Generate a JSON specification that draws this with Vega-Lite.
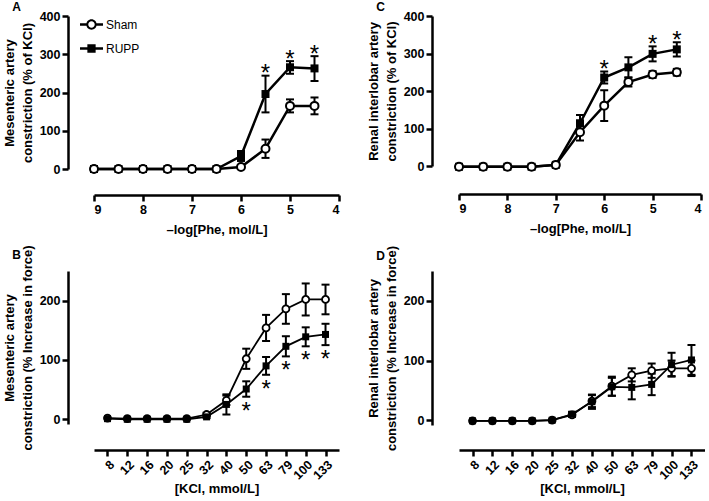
{
  "$schema": "https://vega.github.io/schema/vega-lite/v6.json",
  "background": "white",
  "padding": {"left": 3, "top": 0, "right": 0, "bottom": 0},
  "datasets": {
    "A": [
      {"x": 9, "series": "Sham", "y": 0}, {"x": 8.5, "series": "Sham", "y": 0}, {"x": 8, "series": "Sham", "y": 0},
      {"x": 7.5, "series": "Sham", "y": 0}, {"x": 7, "series": "Sham", "y": 0}, {"x": 6.5, "series": "Sham", "y": 0},
      {"x": 6, "series": "Sham", "y": 5}, {"x": 5.5, "series": "Sham", "y": 53, "lo": 29, "hi": 77},
      {"x": 5, "series": "Sham", "y": 165, "lo": 148, "hi": 182}, {"x": 4.5, "series": "Sham", "y": 165, "lo": 143, "hi": 187},
      {"x": 9, "series": "RUPP", "y": 0}, {"x": 8.5, "series": "RUPP", "y": 0}, {"x": 8, "series": "RUPP", "y": 0},
      {"x": 7.5, "series": "RUPP", "y": 0}, {"x": 7, "series": "RUPP", "y": 0}, {"x": 6.5, "series": "RUPP", "y": 0},
      {"x": 6, "series": "RUPP", "y": 34, "lo": 21, "hi": 47}, {"x": 5.5, "series": "RUPP", "y": 196, "lo": 148, "hi": 244, "sig": "*"},
      {"x": 5, "series": "RUPP", "y": 266, "lo": 249, "hi": 282, "sig": "*"}, {"x": 4.5, "series": "RUPP", "y": 263, "lo": 230, "hi": 295, "sig": "*"}
    ],
    "C": [
      {"x": 9, "series": "Sham", "y": -2}, {"x": 8.5, "series": "Sham", "y": -2}, {"x": 8, "series": "Sham", "y": -2},
      {"x": 7.5, "series": "Sham", "y": -2}, {"x": 7, "series": "Sham", "y": 3},
      {"x": 6.5, "series": "Sham", "y": 90, "lo": 68, "hi": 112}, {"x": 6, "series": "Sham", "y": 161, "lo": 120, "hi": 202},
      {"x": 5.5, "series": "Sham", "y": 224, "lo": 212, "hi": 236}, {"x": 5, "series": "Sham", "y": 244, "lo": 235, "hi": 253},
      {"x": 4.5, "series": "Sham", "y": 250, "lo": 241, "hi": 259},
      {"x": 9, "series": "RUPP", "y": -2}, {"x": 8.5, "series": "RUPP", "y": -2}, {"x": 8, "series": "RUPP", "y": -2},
      {"x": 7.5, "series": "RUPP", "y": -2}, {"x": 7, "series": "RUPP", "y": 3},
      {"x": 6.5, "series": "RUPP", "y": 114, "lo": 92, "hi": 136}, {"x": 6, "series": "RUPP", "y": 236, "lo": 220, "hi": 252, "sig": "*"},
      {"x": 5.5, "series": "RUPP", "y": 263, "lo": 236, "hi": 290}, {"x": 5, "series": "RUPP", "y": 299, "lo": 279, "hi": 319, "sig": "*"},
      {"x": 4.5, "series": "RUPP", "y": 311, "lo": 292, "hi": 330, "sig": "*"}
    ],
    "B": [
      {"x": 8, "series": "Sham", "y": 2}, {"x": 12, "series": "Sham", "y": 1}, {"x": 16, "series": "Sham", "y": 1},
      {"x": 20, "series": "Sham", "y": 1}, {"x": 25, "series": "Sham", "y": 1}, {"x": 32, "series": "Sham", "y": 8, "lo": 5, "hi": 11},
      {"x": 40, "series": "Sham", "y": 32, "lo": 24, "hi": 40}, {"x": 50, "series": "Sham", "y": 102, "lo": 85, "hi": 119},
      {"x": 63, "series": "Sham", "y": 154, "lo": 132, "hi": 176}, {"x": 79, "series": "Sham", "y": 186, "lo": 161, "hi": 211},
      {"x": 100, "series": "Sham", "y": 202, "lo": 175, "hi": 229}, {"x": 133, "series": "Sham", "y": 202, "lo": 177, "hi": 227},
      {"x": 8, "series": "RUPP", "y": 1}, {"x": 12, "series": "RUPP", "y": 0}, {"x": 16, "series": "RUPP", "y": 0},
      {"x": 20, "series": "RUPP", "y": 0}, {"x": 25, "series": "RUPP", "y": 0}, {"x": 32, "series": "RUPP", "y": 4, "lo": 2, "hi": 6},
      {"x": 40, "series": "RUPP", "y": 25, "lo": 8, "hi": 42}, {"x": 50, "series": "RUPP", "y": 51, "lo": 38, "hi": 64, "sig": "*"},
      {"x": 63, "series": "RUPP", "y": 90, "lo": 75, "hi": 105, "sig": "*"}, {"x": 79, "series": "RUPP", "y": 123, "lo": 106, "hi": 140, "sig": "*"},
      {"x": 100, "series": "RUPP", "y": 139, "lo": 123, "hi": 155, "sig": "*"}, {"x": 133, "series": "RUPP", "y": 143, "lo": 125, "hi": 161, "sig": "*"}
    ],
    "D": [
      {"x": 8, "series": "Sham", "y": -1}, {"x": 12, "series": "Sham", "y": -1}, {"x": 16, "series": "Sham", "y": -1},
      {"x": 20, "series": "Sham", "y": -1}, {"x": 25, "series": "Sham", "y": 0}, {"x": 32, "series": "Sham", "y": 9, "lo": 6, "hi": 12},
      {"x": 40, "series": "Sham", "y": 32, "lo": 22, "hi": 42}, {"x": 50, "series": "Sham", "y": 57, "lo": 41, "hi": 73},
      {"x": 63, "series": "Sham", "y": 76, "lo": 65, "hi": 87}, {"x": 79, "series": "Sham", "y": 83, "lo": 71, "hi": 95},
      {"x": 100, "series": "Sham", "y": 87, "lo": 74, "hi": 100}, {"x": 133, "series": "Sham", "y": 87, "lo": 74, "hi": 100},
      {"x": 8, "series": "RUPP", "y": -1}, {"x": 12, "series": "RUPP", "y": -1}, {"x": 16, "series": "RUPP", "y": -1},
      {"x": 20, "series": "RUPP", "y": -1}, {"x": 25, "series": "RUPP", "y": 0}, {"x": 32, "series": "RUPP", "y": 10, "lo": 6, "hi": 14},
      {"x": 40, "series": "RUPP", "y": 31, "lo": 19, "hi": 43}, {"x": 50, "series": "RUPP", "y": 56, "lo": 41, "hi": 71},
      {"x": 63, "series": "RUPP", "y": 55, "lo": 35, "hi": 75}, {"x": 79, "series": "RUPP", "y": 60, "lo": 42, "hi": 78},
      {"x": 100, "series": "RUPP", "y": 93, "lo": 73, "hi": 113}, {"x": 133, "series": "RUPP", "y": 101, "lo": 76, "hi": 126}
    ]
  },
  "columns": 2,
  "align": "each",
  "spacing": {"row": 7, "column": 26},
  "concat": [
    {
      "title": {"text": "A", "dx": 9, "dy": 7.5},
      "width": 245, "height": 153,
      "data": {"name": "A"},
      "encoding": {
        "x": {"field": "x", "type": "quantitative", "scale": {"domain": [9, 4], "nice": false, "zero": false},
              "axis": {"values": [9, 8, 7, 6, 5, 4], "format": "d", "offset": 26, "title": "–log[Phe, mol/L]", "titlePadding": 8}},
        "y": {"field": "y", "type": "quantitative", "scale": {"domain": [0, 400], "nice": false},
              "title": ["Mesenteric artery", "constriction (% of KCl)"],
              "axis": {"values": [0, 100, 200, 300, 400], "offset": 26}}
      },
      "layer": [
        {"mark": {"type": "rule", "strokeWidth": 2, "color": "black"},
         "encoding": {"y": {"field": "lo", "type": "quantitative", "title": ["Mesenteric artery", "constriction (% of KCl)"]}, "y2": {"field": "hi"}}},
        {"mark": {"type": "tick", "orient": "horizontal", "size": 8, "thickness": 2, "color": "black", "opacity": 1},
         "encoding": {"y": {"field": "lo", "type": "quantitative", "title": ["Mesenteric artery", "constriction (% of KCl)"]}}},
        {"mark": {"type": "tick", "orient": "horizontal", "size": 8, "thickness": 2, "color": "black", "opacity": 1},
         "encoding": {"y": {"field": "hi", "type": "quantitative", "title": ["Mesenteric artery", "constriction (% of KCl)"]}}},
        {"mark": {"type": "line", "strokeWidth": 2.5, "color": "black"}, "encoding": {"detail": {"field": "series"}}},
        {"transform": [{"filter": "datum.series === 'RUPP'"}],
         "mark": {"type": "point", "shape": "square", "filled": true, "color": "black", "size": 64, "opacity": 1}},
        {"transform": [{"filter": "datum.series === 'Sham'"}],
         "mark": {"type": "point", "shape": "circle", "fill": "white", "stroke": "black", "strokeWidth": 2, "size": 64, "opacity": 1}},
        {"transform": [{"filter": "datum.sig"}],
         "mark": {"type": "text", "fontSize": 24, "baseline": "alphabetic", "dy": 5.5, "color": "black", "font": "Liberation Sans"},
         "encoding": {"y": {"field": "hi", "type": "quantitative", "title": ["Mesenteric artery", "constriction (% of KCl)"]}, "text": {"field": "sig"}}},
        {"transform": [{"filter": "false"}],
         "mark": {"type": "point", "filled": true, "color": "black", "opacity": 1, "strokeWidth": 0},
         "encoding": {
           "shape": {"field": "series", "type": "nominal",
                     "scale": {"domain": ["Sham", "RUPP"], "range": [
                       "M-1,-0.11L-0.43,-0.11L-0.43,0.11L-1,0.11ZM0.43,-0.11L1,-0.11L1,0.11L0.43,0.11ZM0.45,0A0.45,0.45,0,1,1,-0.45,0A0.45,0.45,0,1,1,0.45,0ZM0.28,0A0.28,0.28,0,1,0,-0.28,0A0.28,0.28,0,1,0,0.28,0Z",
                       "M-1,-0.11L1,-0.11L1,0.11L-1,0.11ZM-0.36,-0.36L0.36,-0.36L0.36,0.36L-0.36,0.36Z"]},
                     "legend": {"orient": "none", "legendX": -14, "legendY": -3, "title": null, "symbolSize": 529, "symbolStrokeWidth": 0, "symbolFillColor": "black", "symbolOpacity": 1, "labelFontSize": 12, "labelFont": "Liberation Sans", "labelColor": "black", "labelOffset": 3, "rowPadding": 6, "padding": 0}}
         }}
      ]
    },
    {
      "title": {"text": "C", "dx": 9, "dy": 7.5},
      "width": 242, "height": 150,
      "data": {"name": "C"},
      "encoding": {
        "x": {"field": "x", "type": "quantitative", "scale": {"domain": [9, 4], "nice": false, "zero": false},
              "axis": {"values": [9, 8, 7, 6, 5, 4], "format": "d", "offset": 28, "title": "–log[Phe, mol/L]", "titlePadding": 8}},
        "y": {"field": "y", "type": "quantitative", "scale": {"domain": [0, 400], "nice": false},
              "title": ["Renal interlobar artery", "constriction (% of KCl)"],
              "axis": {"values": [0, 100, 200, 300, 400], "offset": 27}}
      },
      "layer": [
        {"mark": {"type": "rule", "strokeWidth": 2, "color": "black"},
         "encoding": {"y": {"field": "lo", "type": "quantitative", "title": ["Renal interlobar artery", "constriction (% of KCl)"]}, "y2": {"field": "hi"}}},
        {"mark": {"type": "tick", "orient": "horizontal", "size": 8, "thickness": 2, "color": "black", "opacity": 1},
         "encoding": {"y": {"field": "lo", "type": "quantitative", "title": ["Renal interlobar artery", "constriction (% of KCl)"]}}},
        {"mark": {"type": "tick", "orient": "horizontal", "size": 8, "thickness": 2, "color": "black", "opacity": 1},
         "encoding": {"y": {"field": "hi", "type": "quantitative", "title": ["Renal interlobar artery", "constriction (% of KCl)"]}}},
        {"mark": {"type": "line", "strokeWidth": 2.5, "color": "black"}, "encoding": {"detail": {"field": "series"}}},
        {"transform": [{"filter": "datum.series === 'RUPP'"}],
         "mark": {"type": "point", "shape": "square", "filled": true, "color": "black", "size": 64, "opacity": 1}},
        {"transform": [{"filter": "datum.series === 'Sham'"}],
         "mark": {"type": "point", "shape": "circle", "fill": "white", "stroke": "black", "strokeWidth": 2, "size": 64, "opacity": 1}},
        {"transform": [{"filter": "datum.sig"}],
         "mark": {"type": "text", "fontSize": 24, "baseline": "alphabetic", "dy": 5.5, "color": "black", "font": "Liberation Sans"},
         "encoding": {"y": {"field": "hi", "type": "quantitative", "title": ["Renal interlobar artery", "constriction (% of KCl)"]}, "text": {"field": "sig"}}}
      ]
    },
    {
      "title": {"text": "B", "dx": 9, "dy": 21.5},
      "width": 245, "height": 153,
      "data": {"name": "B"},
      "encoding": {
        "x": {"field": "x", "type": "ordinal", "scale": {"type": "point", "padding": 0.68},
              "axis": {"labelAngle": -45, "offset": 26, "title": "[KCl, mmol/L]", "titlePadding": 1}},
        "y": {"field": "y", "type": "quantitative", "scale": {"domain": [-8, 250], "nice": false},
              "title": ["Mesenteric artery", "constriction (% Increase in force)"],
              "axis": {"values": [0, 100, 200], "offset": 26}}
      },
      "layer": [
        {"mark": {"type": "rule", "strokeWidth": 2, "color": "black"},
         "encoding": {"y": {"field": "lo", "type": "quantitative", "title": ["Mesenteric artery", "constriction (% Increase in force)"]}, "y2": {"field": "hi"}}},
        {"mark": {"type": "tick", "orient": "horizontal", "size": 8, "thickness": 2, "color": "black", "opacity": 1},
         "encoding": {"y": {"field": "lo", "type": "quantitative", "title": ["Mesenteric artery", "constriction (% Increase in force)"]}}},
        {"mark": {"type": "tick", "orient": "horizontal", "size": 8, "thickness": 2, "color": "black", "opacity": 1},
         "encoding": {"y": {"field": "hi", "type": "quantitative", "title": ["Mesenteric artery", "constriction (% Increase in force)"]}}},
        {"mark": {"type": "line", "strokeWidth": 1.8, "color": "black"}, "encoding": {"detail": {"field": "series"}}},
        {"transform": [{"filter": "datum.series === 'Sham'"}],
         "mark": {"type": "point", "shape": "circle", "fill": "white", "stroke": "black", "strokeWidth": 1.8, "size": 49, "opacity": 1}},
        {"transform": [{"filter": "datum.series === 'RUPP'"}],
         "mark": {"type": "point", "shape": "square", "filled": true, "color": "black", "size": 49, "opacity": 1}},
        {"transform": [{"filter": "datum.sig"}],
         "mark": {"type": "text", "fontSize": 24, "baseline": "alphabetic", "dy": 22, "color": "black", "font": "Liberation Sans"},
         "encoding": {"y": {"field": "lo", "type": "quantitative", "title": ["Mesenteric artery", "constriction (% Increase in force)"]}, "text": {"field": "sig"}}}
      ]
    },
    {
      "title": {"text": "D", "dx": 9, "dy": 21.5},
      "width": 246, "height": 154,
      "data": {"name": "D"},
      "encoding": {
        "x": {"field": "x", "type": "ordinal", "scale": {"type": "point", "padding": 0.68},
              "axis": {"labelAngle": -45, "offset": 25, "title": "[KCl, mmol/L]", "titlePadding": 1}},
        "y": {"field": "y", "type": "quantitative", "scale": {"domain": [-8, 250], "nice": false},
              "title": ["Renal interlobar artery", "constriction (% Increase in force)"],
              "axis": {"values": [0, 100, 200], "offset": 27}}
      },
      "layer": [
        {"mark": {"type": "rule", "strokeWidth": 2, "color": "black"},
         "encoding": {"y": {"field": "lo", "type": "quantitative", "title": ["Renal interlobar artery", "constriction (% Increase in force)"]}, "y2": {"field": "hi"}}},
        {"mark": {"type": "tick", "orient": "horizontal", "size": 8, "thickness": 2, "color": "black", "opacity": 1},
         "encoding": {"y": {"field": "lo", "type": "quantitative", "title": ["Renal interlobar artery", "constriction (% Increase in force)"]}}},
        {"mark": {"type": "tick", "orient": "horizontal", "size": 8, "thickness": 2, "color": "black", "opacity": 1},
         "encoding": {"y": {"field": "hi", "type": "quantitative", "title": ["Renal interlobar artery", "constriction (% Increase in force)"]}}},
        {"mark": {"type": "line", "strokeWidth": 1.8, "color": "black"}, "encoding": {"detail": {"field": "series"}}},
        {"transform": [{"filter": "datum.series === 'Sham'"}],
         "mark": {"type": "point", "shape": "circle", "fill": "white", "stroke": "black", "strokeWidth": 1.8, "size": 49, "opacity": 1}},
        {"transform": [{"filter": "datum.series === 'RUPP'"}],
         "mark": {"type": "point", "shape": "square", "filled": true, "color": "black", "size": 49, "opacity": 1}}
      ]
    }
  ],
  "config": {
    "font": "Liberation Sans",
    "view": {"stroke": null},
    "axis": {"domainColor": "black", "domainWidth": 2.5, "tickColor": "black", "tickWidth": 2.5, "tickSize": 6,
             "labelColor": "black", "labelFont": "Liberation Sans", "labelFontWeight": "bold", "labelFontSize": 12.5, "labelPadding": 2,
             "titleColor": "black", "titleFont": "Liberation Sans", "titleFontWeight": "bold", "titleFontSize": 13,
             "titlePadding": 5, "titleLineHeight": 18, "grid": false},
    "title": {"anchor": "start", "frame": "bounds", "fontSize": 12, "fontWeight": "bold", "color": "black", "offset": 0, "font": "Liberation Sans"}
  }
}
